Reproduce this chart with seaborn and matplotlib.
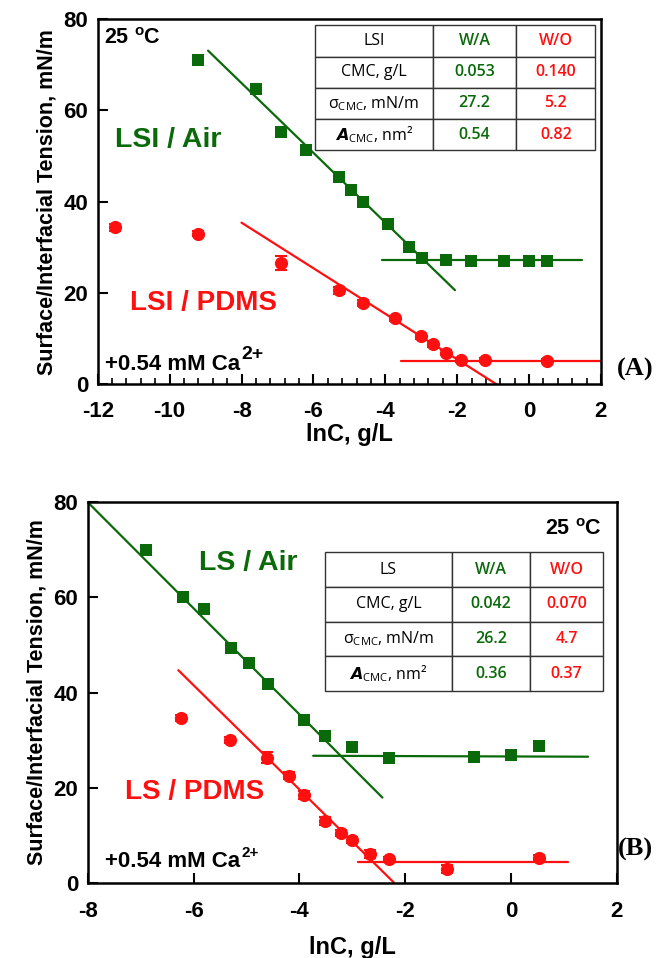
import matplotlib
matplotlib.use('Agg')
import matplotlib.pyplot as plt
import seaborn as sns
import numpy as np

# ---- data ----
# panel A: LSI
lsi_air_x = [-9.21, -7.6, -6.9, -6.2, -5.29, -4.96, -4.61, -3.93, -3.35, -2.98, -2.31, -1.61, -0.69, 0.0, 0.51]
lsi_air_y = [71.0, 64.7, 55.3, 51.3, 45.4, 42.5, 40.0, 35.0, 30.1, 27.7, 27.2, 27.0, 27.0, 27.0, 27.0]
lsi_pdms_x = [-11.53, -9.2, -6.9, -5.29, -4.61, -3.73, -3.0, -2.66, -2.32, -1.9, -1.22, 0.51]
lsi_pdms_y = [34.4, 33.0, 26.6, 20.6, 17.8, 14.4, 10.5, 8.7, 6.9, 5.3, 5.3, 5.1]
lsi_pdms_err = [0.8, 0.5, 1.5, 0.8, 0.6, 0.6, 0.6, 0.6, 0.5, 0.5, 0.5, 0.4]
lsi_air_fit1_x, lsi_air_fit1_y = [-8.93, -2.06], [73.1, 20.6]
lsi_air_fit2_x, lsi_air_fit2_y = [-4.10, 1.47], [27.2, 27.2]
lsi_pdms_fit1_x, lsi_pdms_fit1_y = [-8.0, -0.91], [35.4, 0.0]
lsi_pdms_fit2_x, lsi_pdms_fit2_y = [-3.57, 2.0], [5.1, 5.1]

# panel B: LS
ls_air_x = [-6.91, -6.21, -5.81, -5.30, -4.95, -4.60, -3.92, -3.52, -3.0, -2.30, -0.70, 0.0, 0.53]
ls_air_y = [69.9, 60.1, 57.5, 49.4, 46.3, 41.8, 34.3, 30.9, 28.6, 26.3, 26.5, 26.8, 28.8]
ls_pdms_x = [-6.23, -5.32, -4.62, -4.19, -3.92, -3.52, -3.22, -3.0, -2.67, -2.30, -1.21, 0.53]
ls_pdms_y = [34.7, 30.0, 26.3, 22.5, 18.4, 13.0, 10.4, 9.0, 6.0, 4.9, 2.9, 5.3]
ls_pdms_err = [0.6, 0.7, 1.2, 0.7, 0.8, 0.8, 0.6, 0.6, 0.8, 0.5, 0.8, 0.5]
ls_air_fit1_x, ls_air_fit1_y = [-8.0, -2.43], [80.0, 17.9]
ls_air_fit2_x, ls_air_fit2_y = [-3.74, 1.46], [26.7, 26.5]
ls_pdms_fit1_x, ls_pdms_fit1_y = [-6.29, -2.21], [44.7, 0.0]
ls_pdms_fit2_x, ls_pdms_fit2_y = [-2.89, 1.08], [4.4, 4.4]

# tables
row_labels = ['CMC, g/L', r'σ$\mathregular{_{CMC}}$, mN/m', r'$\mathit{A}$$\mathregular{_{CMC}}$, nm²']
lsi_wa = ['0.053', '27.2', '0.54']
lsi_wo = ['0.140', '5.2', '0.82']
ls_wa = ['0.042', '26.2', '0.36']
ls_wo = ['0.070', '4.7', '0.37']

GREEN = '#0a6a0a'
RED = '#ff1010'

sns.set_style('ticks')
plt.rcParams['font.family'] = ['Liberation Sans', 'DejaVu Sans']
plt.rcParams['font.weight'] = 'bold'
plt.rcParams['axes.unicode_minus'] = False
for k in ['text.color', 'axes.labelcolor', 'xtick.color', 'ytick.color', 'axes.edgecolor']:
    plt.rcParams[k] = 'black'

fig = plt.figure(figsize=(6.56, 9.58), dpi=100)
axA = fig.add_axes([0.149, 0.599, 0.767, 0.381])
axB = fig.add_axes([0.134, 0.0786, 0.806, 0.397])


def draw_panel(ax, air_x, air_y, pdms_x, pdms_y, pdms_err, fits_air, fits_pdms, xpad, lpad):
    for fx, fy in fits_air:
        sns.lineplot(x=fx, y=fy, ax=ax, color=GREEN, lw=1.6)
    for fx, fy in fits_pdms:
        sns.lineplot(x=fx, y=fy, ax=ax, color=RED, lw=1.6)
    ax.errorbar(pdms_x, pdms_y, yerr=pdms_err, fmt='none', ecolor=RED, elinewidth=1.5, capsize=4, capthick=1.5)
    sns.scatterplot(x=air_x, y=air_y, ax=ax, marker='s', s=78, color=GREEN, edgecolor=GREEN, linewidth=0, zorder=5)
    sns.scatterplot(x=pdms_x, y=pdms_y, ax=ax, marker='o', s=90, color=RED, edgecolor=RED, linewidth=0, zorder=5)
    ax.set_ylim(0, 80)
    ax.set_yticks([0, 20, 40, 60, 80])
    ax.tick_params(direction='in', length=7, width=1.5, labelsize=16)
    ax.tick_params(axis='y', pad=7)
    ax.tick_params(axis='x', pad=xpad)
    for lab in ax.get_xticklabels() + ax.get_yticklabels():
        lab.set_fontweight('bold')
    for sp in ax.spines.values():
        sp.set_linewidth(1.8)
        sp.set_visible(True)
    ax.set_xlabel('lnC, g/L', fontsize=17, fontweight='bold', labelpad=lpad)
    ax.set_ylabel('Surface/Interfacial Tension, mN/m', fontsize=15.5, fontweight='bold', labelpad=4)


def draw_table(ax, name, wa, wo, bbox, widths):
    cells = [[name, 'W/A', 'W/O']] + [[r, a, o] for r, a, o in zip(row_labels, wa, wo)]
    tb = ax.table(cellText=cells, bbox=bbox, cellLoc='center', colWidths=widths)
    tb.auto_set_font_size(False)
    for (r, c), cell in tb.get_celld().items():
        cell.set_edgecolor('#333333')
        cell.set_linewidth(1.0)
        cell.set_facecolor('white')
        t = cell.get_text()
        t.set_fontsize(11.5)
        t.set_fontfamily(['Open Sans', 'DejaVu Sans'])
        t.set_fontweight('normal')
        if c == 1:
            t.set_color(GREEN)
            t.set_fontweight('semibold')
        elif c == 2:
            t.set_color(RED)
            t.set_fontweight('semibold')
        else:
            t.set_color('black')
    tb.set_zorder(6)


def ca_note(ax, x, y, sup_size):
    t = ax.text(x, y, '+0.54 mM Ca', fontsize=16, fontweight='bold', va='center')
    ax.annotate('2+', xy=(1, 1), xycoords=t, xytext=(1, -1), textcoords='offset points',
                fontsize=sup_size, fontweight='bold', ha='left', va='center')


# panel A
draw_panel(axA, lsi_air_x, lsi_air_y, lsi_pdms_x, lsi_pdms_y, lsi_pdms_err,
           [(lsi_air_fit1_x, lsi_air_fit1_y), (lsi_air_fit2_x, lsi_air_fit2_y)],
           [(lsi_pdms_fit1_x, lsi_pdms_fit1_y), (lsi_pdms_fit2_x, lsi_pdms_fit2_y)], 12, 1)
axA.set_xlim(-12, 2)
axA.set_xticks([-12, -10, -8, -6, -4, -2, 0, 2])
axA.set_xticks(np.arange(-12, 2.01, 0.4), minor=True)
axA.tick_params(axis='x', which='minor', direction='in', length=4, width=1.2)
draw_table(axA, 'LSI', lsi_wa, lsi_wo, [0.431, 0.641, 0.558, 0.342], [0.421, 0.297, 0.281])
axA.text(0.012, 0.975, r'25 $\mathregular{^o}$C', transform=axA.transAxes, fontsize=15.5, fontweight='bold', va='top', ha='left')
axA.text(-11.53, 53.5, 'LSI / Air', color=GREEN, fontsize=20.5, fontweight='bold', va='center')
axA.text(-11.1, 17.8, 'LSI / PDMS', color=RED, fontsize=20, fontweight='bold', va='center')
ca_note(axA, -11.8, 4.4, 14)
fig.text(0.968, 0.614, '(A)', family='Liberation Serif', fontsize=19, fontweight='bold', ha='center', va='center')

# panel B
draw_panel(axB, ls_air_x, ls_air_y, ls_pdms_x, ls_pdms_y, ls_pdms_err,
           [(ls_air_fit1_x, ls_air_fit1_y), (ls_air_fit2_x, ls_air_fit2_y)],
           [(ls_pdms_fit1_x, ls_pdms_fit1_y), (ls_pdms_fit2_x, ls_pdms_fit2_y)], 13.5, 10)
axB.set_xlim(-8, 2)
axB.set_xticks([-8, -6, -4, -2, 0, 2])
draw_table(axB, 'LS', ls_wa, ls_wo, [0.448, 0.504, 0.526, 0.365], [0.457, 0.282, 0.261])
axB.text(0.971, 0.955, r'25 $\mathregular{^o}$C', transform=axB.transAxes, fontsize=15.5, fontweight='bold', va='top', ha='right')
axB.text(-5.9, 67.2, 'LS / Air', color=GREEN, fontsize=20.5, fontweight='bold', va='center')
axB.text(-7.3, 19.1, 'LS / PDMS', color=RED, fontsize=20, fontweight='bold', va='center')
ca_note(axB, -7.68, 4.4, 11)
fig.text(0.968, 0.113, '(B)', family='Liberation Serif', fontsize=19, fontweight='bold', ha='center', va='center')

fig.savefig('out.png', dpi=100)
